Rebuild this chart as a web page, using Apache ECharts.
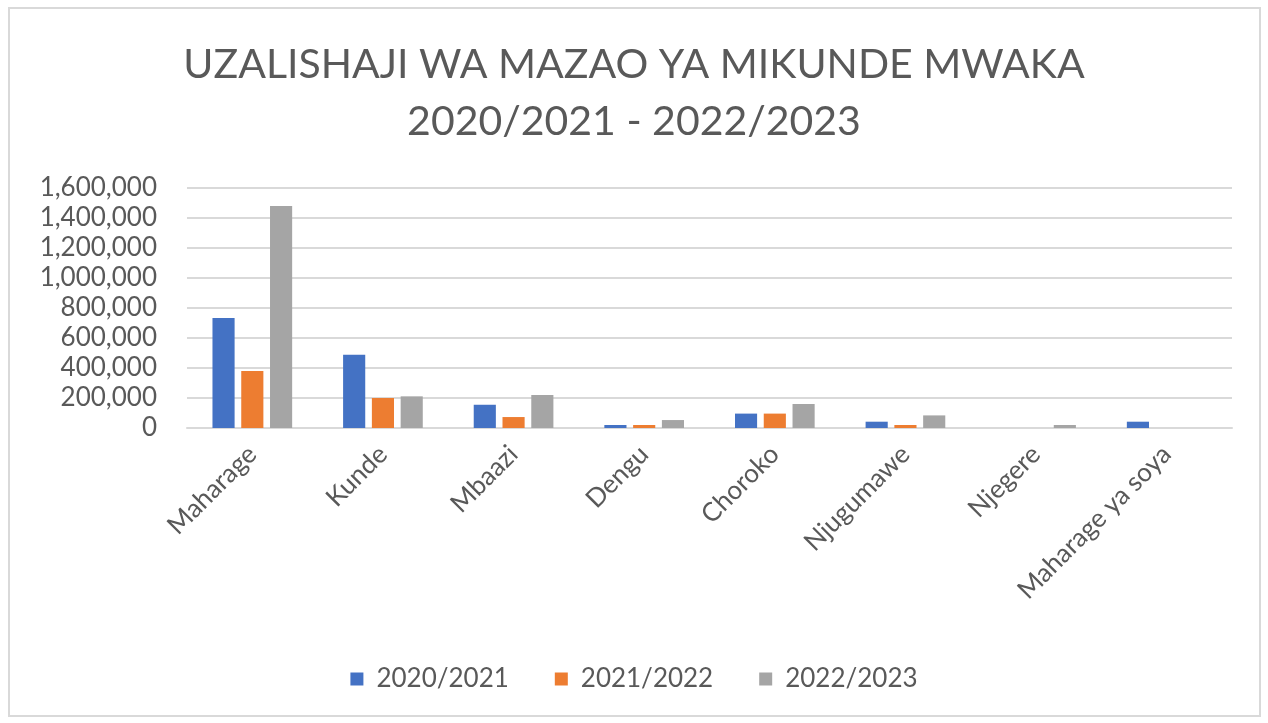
<!DOCTYPE html>
<html>
<head>
<meta charset="utf-8">
<script src="https://cdn.jsdelivr.net/npm/echarts@6/dist/echarts.min.js"></script>
<style>
  html, body { margin: 0; padding: 0; background: #fff; }
  #frame { position: absolute; left: 8px; top: 7px; width: 1253px; height: 710px; border: 2px solid #d9d9d9; box-sizing: border-box; }
  #chart { width: 1268px; height: 723px; }
</style>
</head>
<body>
<div id="frame"></div>
<div id="chart"></div>
<script>
// mazao ya mikunde
var categories = ['Maharage', 'Kunde', 'Mbaazi', 'Dengu', 'Choroko', 'Njugumawe', 'Njegere', 'Maharage ya soya'];
var seriesNames = ['2020/2021', '2021/2022', '2022/2023'];
var data2020 = [733000, 489000, 155000, 20000, 96000, 42000, 0, 42000];
var data2021 = [380000, 200000, 73000, 20000, 96000, 20000, 0, 0];
var data2022 = [1480000, 211000, 220000, 53000, 160000, 84000, 20000, 0];
var colors = ['#4472c4', '#ed7d31', '#a5a5a5'];

var chart = echarts.init(document.getElementById('chart'));
var font = 'Lato, "Open Sans", sans-serif';

var option = {
  animation: false,
  title: {
    text: 'UZALISHAJI WA MAZAO YA MIKUNDE MWAKA\n2020/2021 - 2022/2023',
    left: 'center',
    top: 31,
    textStyle: { fontFamily: font, fontWeight: 'normal', fontSize: 41, color: '#595959', lineHeight: 57 }
  },
  legend: {
    data: seriesNames,
    bottom: 26,
    left: 'center',
    icon: 'rect',
    itemWidth: 13,
    itemHeight: 13,
    itemGap: 46,
    textStyle: { fontFamily: font, fontSize: 26, color: '#595959', padding: [0, 0, 0, 8] }
  },
  grid: { left: 187, right: 36, top: 188, height: 240, containLabel: false },
  xAxis: {
    type: 'category',
    data: categories,
    axisLine: { lineStyle: { color: '#d9d9d9', width: 2 } },
    axisTick: { show: false },
    axisLabel: { rotate: 45, fontFamily: font, fontSize: 26, color: '#595959', margin: 22, interval: 0 }
  },
  yAxis: {
    type: 'value',
    min: 0,
    max: 1600000,
    interval: 200000,
    axisLine: { show: false },
    axisTick: { show: false },
    splitLine: { lineStyle: { color: '#d9d9d9', width: 2 } },
    axisLabel: {
      fontFamily: font, fontSize: 26, color: '#595959', margin: 30,
      formatter: function (v) { return v.toLocaleString('en-US'); }
    }
  },
  series: [
    { name: seriesNames[0], type: 'bar', data: data2020, itemStyle: { color: colors[0] }, barGap: '30%', barCategoryGap: '39%' },
    { name: seriesNames[1], type: 'bar', data: data2021, itemStyle: { color: colors[1] }, barGap: '30%', barCategoryGap: '39%' },
    { name: seriesNames[2], type: 'bar', data: data2022, itemStyle: { color: colors[2] }, barGap: '30%', barCategoryGap: '39%' }
  ]
};
chart.setOption(option);
</script>
</body>
</html>
